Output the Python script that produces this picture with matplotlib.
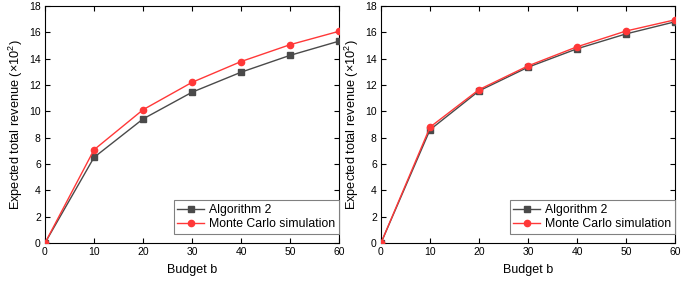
import matplotlib
matplotlib.use("Agg")
import matplotlib.pyplot as plt

plt.rcParams['font.family'] = ['Liberation Sans', 'DejaVu Sans']
plt.rcParams['mathtext.fontset'] = 'custom'
plt.rcParams['mathtext.rm'] = 'Liberation Sans'

# Data
budget = [0, 10, 20, 30, 40, 50, 60]
alg_left = [0, 6.50, 9.42, 11.45, 12.97, 14.25, 15.33]
mc_left = [0, 7.08, 10.12, 12.20, 13.78, 15.06, 16.08]
alg_right = [0, 8.60, 11.55, 13.35, 14.75, 15.88, 16.80]
mc_right = [0, 8.80, 11.65, 13.45, 14.90, 16.10, 16.95]

alg_color = '#4a4a4a'
mc_color = '#ff3838'

fig = plt.figure(figsize=(6.99, 2.85), dpi=100)
ax1 = fig.add_axes([45 / 699, 1 - 243 / 285, 294 / 699, 237 / 285])
ax2 = fig.add_axes([381 / 699, 1 - 243 / 285, 294 / 699, 237 / 285])

for ax, alg, mc in [(ax1, alg_left, mc_left), (ax2, alg_right, mc_right)]:
    ax.plot(budget, alg, color=alg_color, marker='s', markersize=4, linewidth=1.0,
            label='Algorithm 2', zorder=3)
    ax.plot(budget, mc, color=mc_color, marker='o', markersize=4.5, linewidth=1.0,
            label='Monte Carlo simulation', zorder=4)
    ax.set_xlim(0, 60)
    ax.set_ylim(0, 18)
    ax.set_xticks(range(0, 61, 10))
    ax.set_yticks(range(0, 19, 2))
    ax.tick_params(direction='in', top=True, right=True, length=3.5, width=0.8,
                   labelsize=7.5, pad=3)
    for s in ax.spines.values():
        s.set_linewidth(0.8)
    ax.set_xlabel('Budget b', fontsize=9, labelpad=5)
    ax.set_ylabel(r'Expected total revenue ($\times 10^2$)', fontsize=9.2, labelpad=3)
    leg = ax.legend(loc='lower right', bbox_to_anchor=(1, 0.04), borderaxespad=0,
                    fontsize=8.8, fancybox=False, edgecolor='#808080',
                    handlelength=2.2, handletextpad=0.4, labelspacing=0.15,
                    borderpad=0.3, framealpha=1)
    leg.get_frame().set_linewidth(0.8)

fig.savefig('out.png', dpi=100)
